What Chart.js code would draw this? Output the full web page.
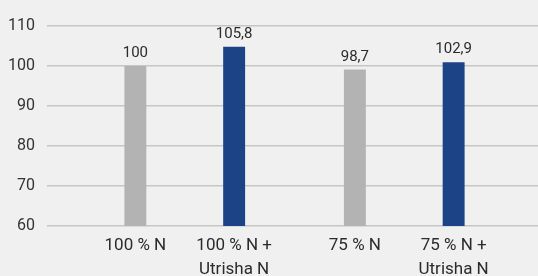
<!DOCTYPE html>
<html>
<head>
<meta charset="utf-8">
<script src="https://cdn.jsdelivr.net/npm/chart.js@4/dist/chart.umd.min.js"></script>
<style>
  html, body { margin: 0; padding: 0; background: #eff0ef; }
  #c { display: block; }
</style>
</head>
<body>
<canvas id="c" width="538" height="276"></canvas>
<script>
// ---- data ----
const groups = ['100 % N', '75 % N'];
const seriesNames = ['ohne Utrisha N', 'mit Utrisha N'];
const baseValues = [100, 99.1];        // grey bars (as drawn)
const utrishaValues = [104.8, 100.95]; // blue bars (as drawn)
const baseLabels = ['100', '98,7'];
const utrishaLabels = ['105,8', '102,9'];
const baseTickLabels = [['100 % N'], ['75 % N']];
const utrishaTickLabels = [['100 % N +', 'Utrisha N'], ['75 % N +', 'Utrisha N']];
const yTicks = [60, 70, 80, 90, 100, 110];

// ---- style ----
const FONT = "Roboto, 'DejaVu Sans Condensed', sans-serif";
const TEXT = '#2b2b2b';
const GRID = '#c6c6c6';
const CAT_PCT = 0.9;
const BAR_PCT = 0.222;

const barTextPlugin = {
  id: 'barTexts',
  afterDatasetsDraw(chart) {
    const ctx = chart.ctx;
    const valLbls = [baseLabels, utrishaLabels];
    const tickLbls = [baseTickLabels, utrishaTickLabels];
    const bottom = chart.chartArea.bottom;
    ctx.save();
    ctx.fillStyle = TEXT;
    ctx.textAlign = 'center';
    chart.data.datasets.forEach((ds, di) => {
      const meta = chart.getDatasetMeta(di);
      meta.data.forEach((bar, i) => {
        // value label above bar
        ctx.font = '15px ' + FONT;
        ctx.textBaseline = 'alphabetic';
        ctx.fillText(valLbls[di][i], bar.x, bar.y - 9);
        // category label below bar
        ctx.font = '17px ' + FONT;
        ctx.textBaseline = 'middle';
        tickLbls[di][i].forEach((line, k) => {
          ctx.fillText(line, bar.x, bottom + 20 + k * 24);
        });
      });
    });
    ctx.restore();
  }
};

new Chart(document.getElementById('c'), {
  type: 'bar',
  data: {
    labels: groups,
    datasets: [
      { label: seriesNames[0], data: baseValues, backgroundColor: '#b3b3b3',
        categoryPercentage: CAT_PCT, barPercentage: BAR_PCT },
      { label: seriesNames[1], data: utrishaValues, backgroundColor: '#1c4386',
        categoryPercentage: CAT_PCT, barPercentage: BAR_PCT }
    ]
  },
  options: {
    responsive: false,
    animation: false,
    devicePixelRatio: 1,
    layout: { padding: { top: 26, left: 0, right: 0, bottom: 0 } },
    plugins: { legend: { display: false }, tooltip: { enabled: false }, title: { display: false } },
    scales: {
      x: {
        type: 'category',
        offset: true,
        grid: { display: false, drawTicks: false },
        border: { display: false },
        ticks: { display: false },
        afterFit: (scale) => { scale.height = 50; }
      },
      y: {
        position: 'left',
        min: 60,
        max: 110,
        afterBuildTicks: (scale) => { scale.ticks = yTicks.map(v => ({ value: v })); },
        afterFit: (scale) => { scale.width = 75; },
        grid: { color: GRID, lineWidth: 1.5, tickLength: 28, drawTicks: true },
        border: { display: false },
        ticks: {
          padding: 12,
          color: '#333333',
          font: { family: FONT, size: 16 }
        }
      },
      y2: {
        position: 'right',
        display: true,
        min: 60,
        max: 110,
        afterBuildTicks: (scale) => { scale.ticks = yTicks.map(v => ({ value: v })); },
        afterFit: (scale) => { scale.width = 24; },
        grid: { color: GRID, lineWidth: 1.5, tickLength: 24, drawTicks: true, drawOnChartArea: false },
        border: { display: false },
        ticks: { display: false }
      }
    }
  },
  plugins: [barTextPlugin]
});
</script>
</body>
</html>
